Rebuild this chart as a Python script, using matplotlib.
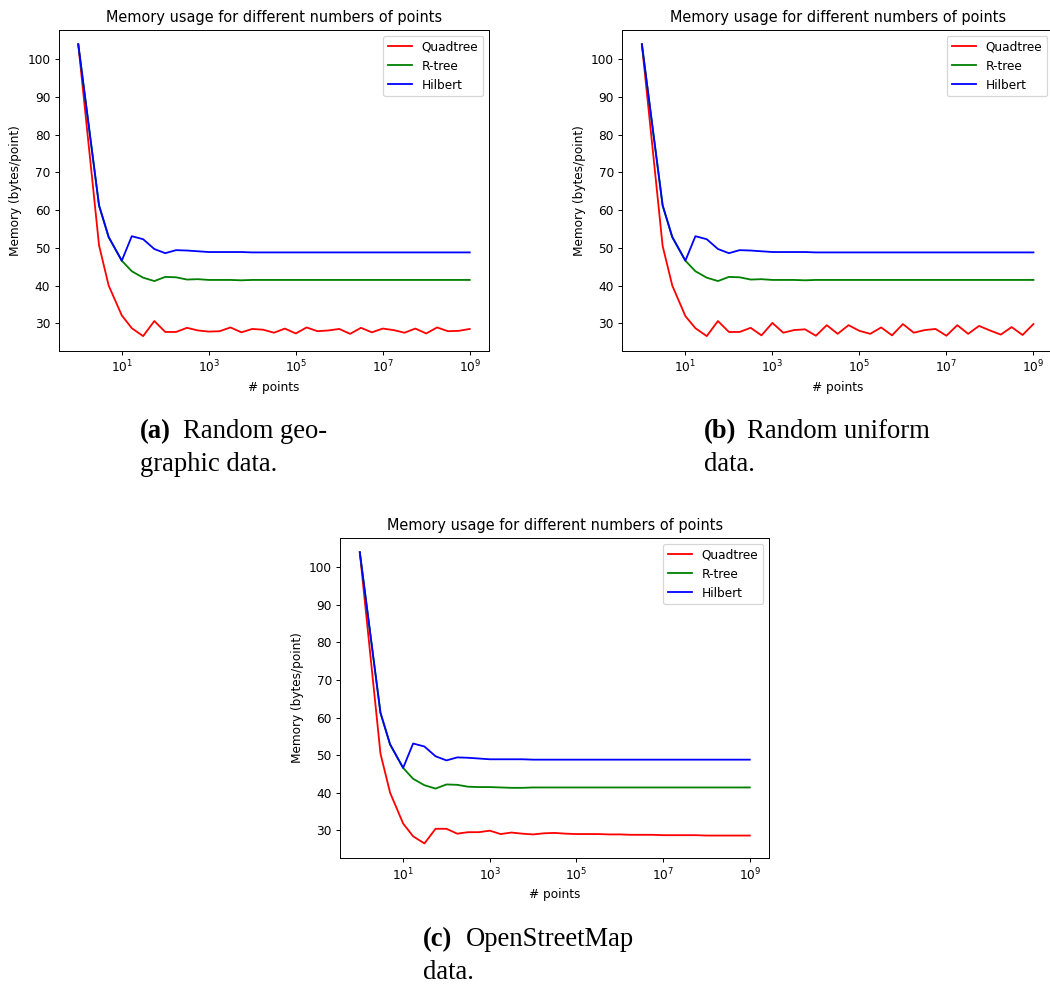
import matplotlib.pyplot as plt

# number of points (quarter-decade steps, cast to int)
n_points = [1, 3, 5, 10, 17, 31, 56, 100, 177, 316, 562, 1000, 1778, 3162, 5623,
            10000, 17782, 31622, 56234, 100000, 177827, 316227, 562341, 1000000,
            1778279, 3162277, 5623413, 10000000, 17782794, 31622776, 56234132,
            100000000, 177827941, 316227766, 562341325, 1000000000]

# memory in bytes/point
quadtree_geo = [104, 50.7, 40.0, 32.1, 28.7, 26.6, 30.6, 27.7, 27.7, 28.8, 28.1, 27.8,
                27.9, 28.9, 27.6, 28.5, 28.3, 27.5, 28.6, 27.3, 28.9, 27.9, 28.1, 28.5,
                27.2, 28.8, 27.6, 28.6, 28.2, 27.5, 28.6, 27.3, 28.9, 27.9, 28.0, 28.5]
quadtree_uni = [104, 50.5, 40.0, 31.9, 28.7, 26.6, 30.6, 27.7, 27.7, 28.8, 26.8, 30.1,
                27.5, 28.2, 28.4, 26.7, 29.5, 27.2, 29.5, 28.0, 27.2, 28.9, 26.8, 29.8,
                27.5, 28.2, 28.5, 26.7, 29.5, 27.2, 29.3, 28.1, 27.0, 29.0, 26.9, 29.8]
quadtree_osm = [104, 50.4, 40.0, 31.8, 28.4, 26.5, 30.4, 30.4, 29.1, 29.5, 29.5, 29.9,
                29.0, 29.4, 29.1, 28.9, 29.2, 29.3, 29.1, 29.0, 29.0, 29.0, 28.9, 28.9,
                28.8, 28.8, 28.8, 28.7, 28.7, 28.7, 28.7, 28.6, 28.6, 28.6, 28.6, 28.6]
rtree = [104, 61.2, 52.8, 46.6, 43.8, 42.1, 41.2, 42.3, 42.2, 41.6, 41.7, 41.5,
         41.5, 41.5, 41.4, 41.5, 41.5, 41.5, 41.5, 41.5, 41.5, 41.5, 41.5, 41.5,
         41.5, 41.5, 41.5, 41.5, 41.5, 41.5, 41.5, 41.5, 41.5, 41.5, 41.5, 41.5]
rtree_osm = [104, 61.2, 52.8, 46.6, 43.7, 42.0, 41.1, 42.2, 42.1, 41.6, 41.5, 41.5,
             41.4, 41.3, 41.3, 41.4, 41.4, 41.4, 41.4, 41.4, 41.4, 41.4, 41.4, 41.4,
             41.4, 41.4, 41.4, 41.4, 41.4, 41.4, 41.4, 41.4, 41.4, 41.4, 41.4, 41.4]
hilbert = [104, 61.3, 52.9, 46.6, 53.1, 52.3, 49.7, 48.6, 49.4, 49.3, 49.1, 48.9,
           48.9, 48.9, 48.9, 48.8, 48.8, 48.8, 48.8, 48.8, 48.8, 48.8, 48.8, 48.8,
           48.8, 48.8, 48.8, 48.8, 48.8, 48.8, 48.8, 48.8, 48.8, 48.8, 48.8, 48.8]

x_ticks = [1e1, 1e3, 1e5, 1e7, 1e9]

W, H = 1050, 988
DPI = 87
fig = plt.figure(figsize=(W / DPI, H / DPI), dpi=DPI)


def px_axes(left, top, right, bottom):
    return fig.add_axes([left / W, 1 - bottom / H, (right - left) / W, (bottom - top) / H])


def draw_panel(ax, quad, rt, hil):
    ax.plot(n_points, quad, color='red', label='Quadtree')
    ax.plot(n_points, rt, color='green', label='R-tree')
    ax.plot(n_points, hil, color='blue', label='Hilbert')
    ax.set_xscale('log')
    ax.set_xticks(x_ticks)
    ax.minorticks_off()
    ax.set_xlabel('# points')
    ax.set_ylabel('Memory (bytes/point)')
    ax.set_title('Memory usage for different numbers of points')
    ax.legend(loc='upper right')


ax_a = px_axes(58.7, 29.7, 489.3, 350.7)
draw_panel(ax_a, quadtree_geo, rtree, hilbert)
ax_b = px_axes(622.3, 29.7, 1053, 350.7)
draw_panel(ax_b, quadtree_uni, rtree, hilbert)
ax_c = px_axes(340.3, 537.7, 769.3, 858)
draw_panel(ax_c, quadtree_osm, rtree_osm, hilbert)

# sub-captions
cap_font = dict(family='Liberation Serif', fontsize=22, va='baseline', ha='left')


def caption(x, y, label, line1, line2):
    fig.text(x / W, 1 - y / H, label, fontweight='bold', **cap_font)
    fig.text((x + 43) / W, 1 - y / H, line1, **cap_font)
    fig.text(x / W, 1 - (y + 33) / H, line2, **cap_font)


caption(140, 438, '(a)', 'Random geo-', 'graphic data.')
caption(704, 438, '(b)', 'Random uniform', 'data.')
caption(423, 946, '(c)', 'OpenStreetMap', 'data.')

fig.savefig('out.png', dpi=DPI)
